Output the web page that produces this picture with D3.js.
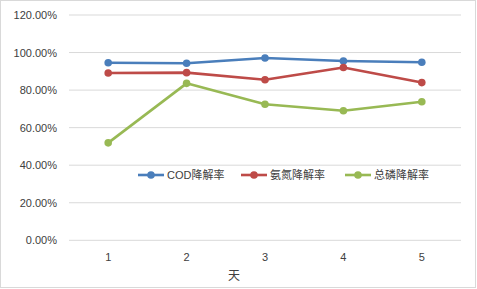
<!DOCTYPE html>
<html>
<head>
<meta charset="utf-8">
<script src="https://cdn.jsdelivr.net/npm/d3@7"></script>
<style>
  body { margin: 0; background: #fff; }
  text { font-family: "Liberation Sans", "Noto Sans CJK SC", sans-serif; }
</style>
</head>
<body>
<svg id="chart"></svg>
<script>
// data
const days = ["1", "2", "3", "4", "5"];
const codRate = [0.946, 0.943, 0.971, 0.955, 0.948];
const nh3Rate = [0.891, 0.893, 0.855, 0.920, 0.840];
const tpRate = [0.519, 0.836, 0.725, 0.690, 0.738];
const seriesNames = ["COD降解率", "氨氮降解率", "总磷降解率"];
const seriesColors = ["#4a7ebb", "#be4b48", "#98b954"];
const yTicks = [0, 0.2, 0.4, 0.6, 0.8, 1.0, 1.2];

const W = 477, H = 289;
const svg = d3.select("#chart").attr("width", W).attr("height", H);

// outer frame
svg.append("rect")
    .attr("x", 0.5).attr("y", 0.5)
    .attr("width", 475).attr("height", 287)
    .attr("fill", "#fff")
    .attr("stroke", "#d9d9d9");

const plotLeft = 69, plotRight = 461, plotTop = 15, plotBottom = 240.3;

const x = d3.scaleBand()
    .domain(days)
    .range([plotLeft, plotRight]);

const y = d3.scaleLinear()
    .domain([0, 1.2])
    .range([plotBottom, plotTop]);

// gridlines
svg.append("g")
    .selectAll("line")
    .data(yTicks)
    .join("line")
    .attr("x1", plotLeft).attr("x2", plotRight)
    .attr("y1", d => y(d)).attr("y2", d => y(d))
    .attr("stroke", "#d9d9d9")
    .attr("stroke-width", 1);

// y axis labels
const yAxis = svg.append("g")
    .attr("transform", "translate(" + (plotLeft - 7) + ",0)")
    .call(d3.axisLeft(y).tickValues(yTicks).tickSize(0).tickPadding(5)
        .tickFormat(d => (d * 100).toFixed(2) + "%"));
yAxis.select(".domain").remove();
yAxis.selectAll("text")
    .attr("font-size", 11)
    .attr("fill", "#404040");

// x axis labels
const xAxis = svg.append("g")
    .attr("transform", "translate(0," + plotBottom + ")")
    .call(d3.axisBottom(x).tickSize(0).tickPadding(13));
xAxis.select(".domain").remove();
xAxis.selectAll("text")
    .attr("font-size", 11)
    .attr("fill", "#404040");

// x axis title
svg.append("text")
    .attr("x", 234)
    .attr("y", 280)
    .attr("text-anchor", "middle")
    .attr("font-size", 12)
    .attr("fill", "#404040")
    .text("天");

const allSeries = [codRate, nh3Rate, tpRate];

const line = d3.line()
    .x((d, i) => x(days[i]) + x.bandwidth() / 2)
    .y(d => y(d));

allSeries.forEach((vals, k) => {
    svg.append("path")
        .datum(vals)
        .attr("fill", "none")
        .attr("stroke", seriesColors[k])
        .attr("stroke-width", 2.6)
        .attr("stroke-linejoin", "round")
        .attr("d", line);
    svg.append("g")
        .selectAll("circle")
        .data(vals)
        .join("circle")
        .attr("cx", (d, i) => x(days[i]) + x.bandwidth() / 2)
        .attr("cy", d => y(d))
        .attr("r", 3.8)
        .attr("fill", seriesColors[k]);
});

// legend
const legendX = [138, 241, 345];
const legend = svg.append("g");
seriesNames.forEach((name, k) => {
    const g = legend.append("g").attr("transform", "translate(" + legendX[k] + ",175)");
    g.append("line")
        .attr("x1", 0).attr("x2", 26)
        .attr("stroke", seriesColors[k])
        .attr("stroke-width", 2.6);
    g.append("circle")
        .attr("cx", 13).attr("r", 3.8)
        .attr("fill", seriesColors[k]);
    g.append("text")
        .attr("x", 29)
        .attr("y", 4)
        .attr("font-size", 11)
        .attr("fill", "#404040")
        .text(name);
});
</script>
</body>
</html>
